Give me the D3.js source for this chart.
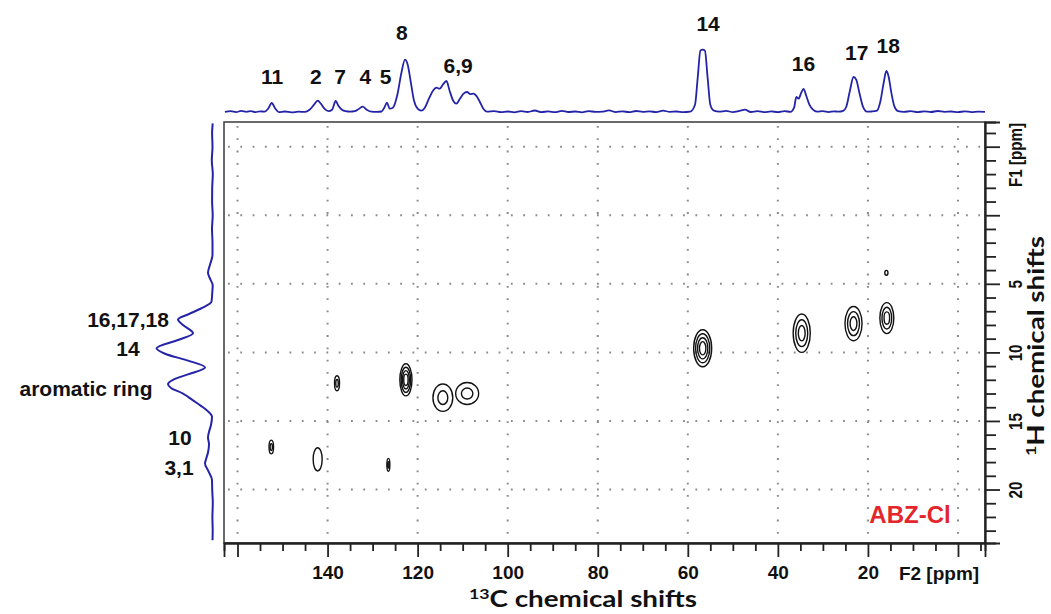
<!DOCTYPE html>
<html>
<head>
<meta charset="utf-8">
<script src="https://cdn.jsdelivr.net/npm/d3@7"></script>
<style>
  html, body { margin: 0; padding: 0; background: #fff; }
  svg { display: block; }
</style>
</head>
<body>
<svg id="chart" width="1051" height="614"></svg>
<script>
// ---------------- DATA ----------------
// 13C projection (top trace): chemical shift (ppm) and intensity (arbitrary units)
const topPpm = [162.8,161.5,160.3,159.2,158,157,156,155,154,153.2,152.4,151.6,150.8,149.5,148,146.5,145,144,143,142.2,141.5,140.7,139.8,139,138.2,137.6,136.8,136,135,134,133,132.2,131.3,130.3,129,128,127.4,126.8,126.2,125.5,124.5,123.6,122.8,122.2,121.5,120.8,120,119.2,118.4,117.5,116.6,115.8,115.1,114.4,113.6,112.9,112.1,111.4,110.6,109.8,109,108.3,107.6,107,106.2,105.4,104.6,103,101.5,100,98.5,97,95.5,94,92.5,91,89.5,88,86.5,85,83.5,82,80.5,79,77.5,76,74.5,73,71.5,70,68.5,67,65.5,64,62.5,61,59.5,58.4,57.8,57.2,56.7,56.2,55.6,55,54.2,53,51.5,50,48.5,47.3,46,44.5,43,41.5,40,38.5,37.2,36.4,35.9,35.4,34.8,34.3,33.7,33,32.2,31.3,30,28.7,27.5,26.5,25.5,24.8,24,23.2,22.6,21.9,21.1,20.2,19.2,18,17.2,16.5,15.9,15.4,14.8,14.1,13.3,12,10.5,9,7.5,6,4.5,3,1.5,0,-1.5,-3,-4.5,-6];
const topInt = [0.8,1.5,0.6,1.8,0.9,1.6,0.5,1.4,1.0,4,9.7,4,0.5,1.2,0.3,1.0,0.8,3,8,12,9,4,1.5,3,11.7,7,3,1.5,1.0,1.5,4,6,3,1,0.8,1.2,5,10,4,5,18,40,53,48,30,12,4,2,5,14,22,25,24,28,31.7,22,12,9,14,19,20.7,18.5,19,17,11,4,1,1.5,0.5,1.2,0.4,1.6,0.7,2.2,0.6,1.3,0.5,1.8,0.7,1.2,0.4,1.6,0.8,1.1,2.3,0.6,1.4,0.5,1.7,0.8,1.3,0.6,2.0,0.9,1.2,0.5,1.0,8,35,62,63,62,35,8,2,1,1.8,0.6,1.9,3,0.7,1.5,0.5,1.3,0.6,1.6,0.8,5,15.7,14,20,23.7,17,8,3,1,1.5,0.6,1.4,1.0,1.8,6,22,35.7,33,20,6,1,1.2,2,12,30,41.7,36,20,6,1.5,0.8,1.6,0.6,1.3,0.7,1.7,0.9,1.2,0.5,1.4,0.6,1.1,0.9];

// 1H projection (left trace): chemical shift (ppm) and intensity (arbitrary units)
const leftPpm = [-6.7,-6,-5,-4,-3,-2,-1,0,1,2,2.9,3.6,4.2,4.7,5.1,5.7,6.3,6.8,7.2,7.6,8.0,8.6,9.1,9.7,10.1,10.6,11.1,11.6,12.0,12.3,12.6,13.0,13.5,13.9,14.3,14.7,15.3,15.8,16.2,16.7,17.3,17.8,18.1,18.6,19.3,20,21,22,23,23.7];
const leftInt = [0.3,0.9,0.5,1.2,0.2,0.8,0.9,0.3,1.0,0.5,0.5,3,5,2.5,0.3,0.8,1.5,12,24,35,30,20,35,56.5,48,25,8,25,40,45,42,30,20,12,5,1,2,4,5,4,5,7,8,5,1,0.8,0.2,0.6,0.3,0.5];

// top-trace peak labels: text, ppm position
const topLabels = ["11","2","7","4","5","8","6,9","14","16","17","18"];
const topLabelPpm = [152.3,142.6,137.2,131.6,127.1,123.5,111,55.5,34.3,22.5,15.5];
const topLabelLevel = [76,76,76,76,76,32,65,23,63,52,45];

// left-trace peak labels: text, 1H ppm position
const leftLabels = ["16,17,18","14","aromatic ring","10","3,1"];
const leftLabelPpm = [7.6,9.7,12.6,16.2,18.4];
const leftLabelX = [128,128,86,180,179];

// 2D cross peaks: 13C ppm, 1H ppm, half-widths (ppm), number of contour levels
const peakC  = [56.7, 34.7, 23.2, 15.8, 15.9, 122.6, 137.9, 114.4, 109.0, 152.5, 142.2, 126.5];
const peakH  = [9.7,  8.6,  7.9,  7.5,  4.2,  12.0,  12.25, 13.3,  13.0,  16.9,  17.8,  18.2];
const peakWC = [2.0,  1.9,  1.9,  1.55, 0.35, 1.35,  0.55,  2.2,   2.55,  0.5,   1.0,   0.33];
const peakWH = [1.35, 1.4,  1.25, 1.13, 0.18, 1.17,  0.55,  1.0,   0.8,   0.5,   0.85,  0.47];
const peakLv = [4,    3,    3,    3,    1,    4,     2,     2,     2,     2,     1,     2];

// axis ticks
const cMajor = [160,140,120,100,80,60,40,20,0];
const cLabels = [140,120,100,80,60,40,20];
const cMinor = [-5,5,10,15,25,30,35,45,50,55,65,70,75,85,90,95,105,110,115,125,130,135,145,150,155];
const hMajor = [-5,0,5,10,15,20];
const hLabels = [5,10,15,20];
const hMinor = [-6,-4,-3,-2,-1,1,2,3,4,6,7,8,9,11,12,13,14,16,17,18,19,21,22,23];
const cGrid = [160,140,120,100,80,60,40,20,0];
const hGrid = [-5,0,5,10,15,20];

// ---------------- DRAW ----------------
const svg = d3.select("#chart");
const box = {l: 224, r: 985, t: 122, b: 543};
const numFont = "'Liberation Sans', Arial, sans-serif";
const titleFont = "Lato, 'Open Sans', sans-serif";
const blue = "#2424a8";

const x = d3.scaleLinear().domain([163, -6]).range([box.l, box.r]);
const y = d3.scaleLinear().domain([-6.8, 23.9]).range([box.t, box.b]);
const topY = d3.scaleLinear().domain([0, 63]).range([112.7, 49.7]);
const leftX = d3.scaleLinear().domain([0, 56.5]).range([213, 156.5]);

// grid (dotted)
const grid = svg.append("g").attr("stroke", "#8a8a8a").attr("stroke-width", 2)
  .attr("stroke-dasharray", "1.8 10.5").attr("fill", "none");
grid.selectAll("line.v").data(cGrid).join("line").attr("class", "v")
  .attr("x1", d => x(d)).attr("x2", d => x(d)).attr("y1", box.t + 4).attr("y2", box.b);
grid.selectAll("line.h").data(hGrid).join("line").attr("class", "h")
  .attr("y1", d => y(d)).attr("y2", d => y(d)).attr("x1", box.l + 4).attr("x2", box.r);

// frame
svg.append("rect").attr("x", box.l).attr("y", box.t).attr("width", box.r - box.l).attr("height", box.b - box.t)
  .attr("fill", "none").attr("stroke", "#3a3a3a").attr("stroke-width", 1.5);

// contours
const cont = svg.append("g").attr("fill", "none").attr("stroke", "#111").attr("stroke-width", 1.4);
peakC.forEach((c, i) => {
  const n = peakLv[i];
  for (let k = 0; k < n; k++) {
    const f = n === 1 ? 1 : 1 - k * (0.75 / (n - 1 + 0.5));
    cont.append("ellipse")
      .attr("cx", x(c)).attr("cy", y(peakH[i]))
      .attr("rx", Math.abs(x(c + peakWC[i] * f) - x(c)))
      .attr("ry", Math.abs(y(peakH[i] + peakWH[i] * f) - y(peakH[i])));
  }
});

// bottom axis
const bAxisMinor = d3.axisBottom(x).tickValues(cMinor).tickSize(8).tickFormat("");
const bAxisMajor = d3.axisBottom(x).tickValues(cMajor).tickSize(14).tickPadding(9)
  .tickFormat(d => cLabels.includes(d) ? d : "");
const gbm = svg.append("g").attr("transform", `translate(0,${box.b})`).call(bAxisMinor);
const gb = svg.append("g").attr("transform", `translate(0,${box.b})`).call(bAxisMajor);
[gbm, gb].forEach(g => {
  g.select(".domain").attr("stroke", "#222").attr("stroke-width", 1.8);
  g.selectAll(".tick line").attr("stroke", "#222").attr("stroke-width", 1.8);
});
gb.selectAll("text").attr("font-family", numFont).attr("font-weight", "bold").attr("font-size", 19).attr("fill", "#111");

// right axis
const rAxisMinor = d3.axisRight(y).tickValues(hMinor).tickSize(11).tickFormat("");
const rAxisMajor = d3.axisRight(y).tickValues(hMajor).tickSize(15)
  .tickFormat(d => hLabels.includes(d) ? d : "");
const grm = svg.append("g").attr("transform", `translate(${box.r},0)`).call(rAxisMinor);
const gr = svg.append("g").attr("transform", `translate(${box.r},0)`).call(rAxisMajor);
[grm, gr].forEach(g => {
  g.select(".domain").attr("stroke", "#222").attr("stroke-width", 1.8);
  g.selectAll(".tick line").attr("stroke", "#222").attr("stroke-width", 1.8);
});
gr.selectAll("text").attr("font-family", numFont).attr("font-weight", "bold").attr("font-size", 19)
  .attr("fill", "#111").attr("x", null).attr("dy", null).attr("text-anchor", "middle")
  .attr("transform", "translate(37,0) rotate(-90) scale(0.8,1)");

// axis unit labels
svg.append("text").attr("x", 939).attr("y", 580).attr("text-anchor", "middle")
  .attr("font-family", numFont).attr("font-weight", "bold").attr("font-size", 19).attr("fill", "#111")
  .text("F2 [ppm]");
svg.append("text").attr("transform", `translate(${box.r + 37},${y(-4.4)}) rotate(-90) scale(0.8,1)`)
  .attr("text-anchor", "middle").attr("font-family", numFont).attr("font-weight", "bold")
  .attr("font-size", 19).attr("fill", "#111").text("F1 [ppm]");

// axis titles
const tb = svg.append("text").attr("x", 583).attr("y", 607).attr("text-anchor", "middle")
  .attr("font-family", titleFont).attr("font-weight", "bold").attr("font-size", 22).attr("fill", "#111")
  .attr("textLength", 228).attr("lengthAdjust", "spacingAndGlyphs");
tb.append("tspan").attr("font-size", 14).attr("dy", -8).text("13");
tb.append("tspan").attr("dy", 8).text("C chemical shifts");

const tr = svg.append("text").attr("transform", `translate(1044,346) rotate(-90)`).attr("text-anchor", "middle")
  .attr("font-family", titleFont).attr("font-weight", "bold").attr("font-size", 22).attr("fill", "#111")
  .attr("textLength", 220).attr("lengthAdjust", "spacingAndGlyphs");
tr.append("tspan").attr("font-size", 14).attr("dy", -8).text("1");
tr.append("tspan").attr("dy", 8).text("H chemical shifts");

// top projection
const topLine = d3.line().x((d, i) => x(topPpm[i])).y((d, i) => topY(topInt[i])).curve(d3.curveMonotoneX);
svg.append("path").attr("d", topLine(topPpm)).attr("fill", "none").attr("stroke", blue).attr("stroke-width", 1.8)
  .attr("stroke-linejoin", "round");

// left projection
const leftLine = d3.line().x((d, i) => leftX(leftInt[i])).y((d, i) => y(leftPpm[i])).curve(d3.curveMonotoneY);
svg.append("path").attr("d", leftLine(leftPpm)).attr("fill", "none").attr("stroke", blue).attr("stroke-width", 2)
  .attr("stroke-linejoin", "round");

// peak labels
svg.append("g").selectAll("text").data(topLabels).join("text")
  .attr("x", (d, i) => x(topLabelPpm[i])).attr("y", (d, i) => topLabelLevel[i] + 7.5)
  .attr("text-anchor", "middle").attr("font-family", numFont).attr("font-weight", "bold")
  .attr("font-size", 21).attr("fill", "#111").text(d => d);

svg.append("g").selectAll("text").data(leftLabels).join("text")
  .attr("x", (d, i) => leftLabelX[i]).attr("y", (d, i) => y(leftLabelPpm[i]) + 7.5)
  .attr("text-anchor", "middle").attr("font-family", numFont).attr("font-weight", "bold")
  .attr("font-size", 21).attr("fill", "#111").text(d => d);

// sample name
svg.append("text").attr("x", 910).attr("y", 523).attr("text-anchor", "middle")
  .attr("font-family", numFont).attr("font-weight", "bold").attr("font-size", 24).attr("fill", "#e3262b")
  .text("ABZ-Cl");
</script>
</body>
</html>
